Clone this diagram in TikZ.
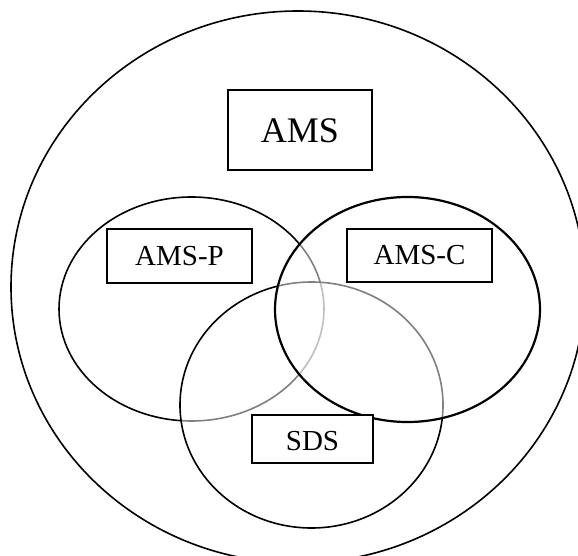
\documentclass[tikz,border=0pt]{standalone}
\usepackage{fontspec}
\setmainfont{Liberation Serif}
\usetikzlibrary{shapes.geometric}
\begin{document}
\begin{tikzpicture}[x=1pt,y=-1pt,
  setring/.style={ellipse,draw=black,line width=1.6pt,inner sep=0pt,fill=white,fill opacity=0.5,text opacity=1},
  labelbox/.style={draw=black,line width=2pt,fill=white,inner sep=0pt,font=\fontsize{29}{31}\selectfont}]
\clip (0,0) rectangle (578,556);
\fill[white] (0,0) rectangle (578,556);
\node[setring,fill=none,minimum width=574pt,minimum height=552pt] (ams) at (298,287) {};
\node[setring,minimum width=265pt,minimum height=224pt] (amsp) at (191.5,309) {};
\node[setring,minimum width=263pt,minimum height=246pt] (sds) at (311.5,405) {};
\node[setring,line width=2.2pt,minimum width=265pt,minimum height=225pt] (amsc) at (407.5,309.5) {};
\node[labelbox,minimum width=144pt,minimum height=80pt,font=\fontsize{36}{38}\selectfont] (amsbox) at (300,130.5) {AMS};
\node[labelbox,minimum width=145pt,minimum height=54pt] (amspbox) at (179.5,256) {AMS-P};
\node[labelbox,minimum width=145pt,minimum height=53pt] (amscbox) at (419.5,255.5) {AMS-C};
\node[labelbox,minimum width=121pt,minimum height=48pt,text depth=0pt] (sdsbox) at (312.5,439) {\raisebox{-4pt}{SDS}};
\end{tikzpicture}
\end{document}
